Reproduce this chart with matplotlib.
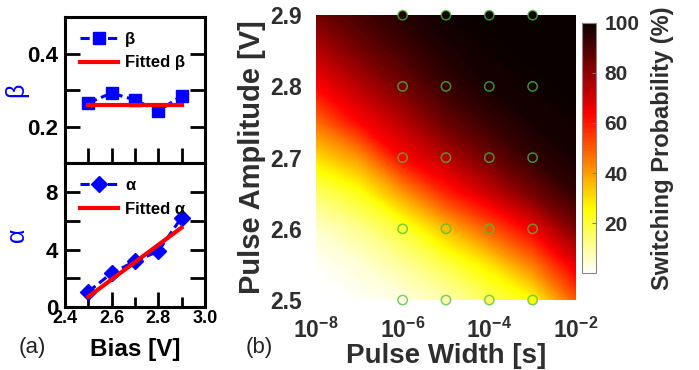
import numpy as np
import matplotlib.pyplot as plt
from matplotlib.ticker import FixedLocator, FixedFormatter

plt.rcParams['font.family'] = ['Liberation Sans', 'DejaVu Sans']
plt.rcParams['font.weight'] = 'bold'
plt.rcParams['axes.labelweight'] = 'bold'
plt.rcParams['mathtext.fontset'] = 'custom'
plt.rcParams['mathtext.rm'] = 'Liberation Sans:bold'
plt.rcParams['mathtext.it'] = 'Liberation Sans:bold'
plt.rcParams['mathtext.bf'] = 'Liberation Sans:bold'

# ---- panel (a) data ----
bias = [2.5, 2.6, 2.7, 2.8, 2.9]
beta = [0.265, 0.292, 0.273, 0.243, 0.284]
beta_fit = [0.26, 0.26, 0.26, 0.26, 0.26]
alpha = [1.07, 2.36, 3.18, 3.88, 6.22]
alpha_fit_bias = [2.5, 2.9]
alpha_fit = [0.72, 5.52]

# ---- panel (b) data: switching probability (%) ----
log_width = [-8, -7, -6, -5, -4, -3, -2]
amplitude = [2.5, 2.55, 2.6, 2.65, 2.7, 2.75, 2.8, 2.85, 2.9]
prob = [
    [0, 1, 3, 8, 16, 25, 50],
    [1, 4, 10, 18, 29, 45, 67],
    [5, 11, 20, 35, 50, 65, 83],
    [15, 23, 40, 58, 71, 84, 94],
    [30, 41, 63, 74, 85, 94, 98],
    [47, 63, 74, 86, 93, 98, 99],
    [63, 74, 84, 93, 98, 99, 100],
    [74, 84, 91, 97, 99, 100, 100],
    [84, 91, 96, 99, 100, 100, 100],
]
# measured points: pulse widths 1e-6..1e-3, amplitudes 2.5..2.9
meas_width = [-6, -5, -4, -3]
meas_amp = [2.5, 2.6, 2.7, 2.8, 2.9]

fig = plt.figure(figsize=(6.99, 3.70), dpi=100)

blue = '#0000ff'
red = '#ff0000'

def style_left(ax):
    for s in ax.spines.values():
        s.set_linewidth(2.2)
    ax.tick_params(which='both', direction='in', width=2, right=True, top=False,
                   labelsize=16, pad=5, length=11)

# top: beta
ax1 = fig.add_axes([0.093, 0.559, 0.200, 0.395])
ax1.plot(bias, beta, '--s', color=blue, lw=2.2, ms=8, dashes=(3, 1.5), label='β')
ax1.plot(bias, beta_fit, '-', color=red, lw=3, label='Fitted β')
ax1.set_xlim(2.4, 3.0)
ax1.set_ylim(0.1, 0.5)
ax1.yaxis.set_major_locator(FixedLocator([0.2, 0.4]))
ax1.yaxis.set_minor_locator(FixedLocator([0.3]))
ax1.xaxis.set_major_locator(FixedLocator(bias))
ax1.set_xticklabels([])
style_left(ax1)
ax1.set_ylabel('β', color=blue, fontsize=18, fontweight='normal')
ax1.yaxis.set_label_coords(-0.26, 0.5)
ax1.legend(loc='upper left', frameon=False, fontsize=12, handlelength=2.3,
           borderaxespad=0.5, labelspacing=0.5, handletextpad=0.4)

# bottom: alpha
ax2 = fig.add_axes([0.093, 0.170, 0.200, 0.389])
ax2.plot(bias, alpha, '--D', color=blue, lw=2.2, ms=8, dashes=(3, 1.5), label='α')
ax2.plot(alpha_fit_bias, alpha_fit, '-', color=red, lw=3, label='Fitted α')
ax2.set_xlim(2.4, 3.0)
ax2.set_ylim(0, 10)
ax2.yaxis.set_major_locator(FixedLocator([0, 4, 8]))
ax2.yaxis.set_minor_locator(FixedLocator([2, 6]))
ax2.xaxis.set_major_locator(FixedLocator([2.4, 2.6, 2.8, 3.0]))
ax2.xaxis.set_minor_locator(FixedLocator([2.5, 2.7, 2.9]))
ax2.xaxis.set_major_formatter(FixedFormatter(['2.4', '2.6', '2.8', '3.0']))
style_left(ax2)
ax2.tick_params(which='minor', axis='x', length=7)
ax2.tick_params(axis='x', labelsize=13, pad=2)
ax2.set_ylabel('α', color=blue, fontsize=18, fontweight='normal')
ax2.yaxis.set_label_coords(-0.26, 0.5)
ax2.set_xlabel('Bias [V]', fontsize=17.5, labelpad=8)
ax2.legend(loc='upper left', frameon=False, fontsize=12, handlelength=2.3,
           borderaxespad=0.5, labelspacing=0.5, handletextpad=0.4)

fig.text(0.026, 0.045, '(a)', fontsize=16, fontweight='normal', color='#222222')

# ---- panel (b) ----
gray = '#2e2e2e'
ax3 = fig.add_axes([0.452, 0.189, 0.372, 0.770])
cs = ax3.contourf(log_width, amplitude, prob, levels=np.linspace(0, 100, 201),
                  cmap='hot_r', vmin=0, vmax=100)
P = np.array(prob)
sel = P[::2, 2:6]
mx, my = np.meshgrid(meas_width, meas_amp)
ax3.scatter(mx, my, c=sel, cmap='hot_r', vmin=0, vmax=100, s=45,
            edgecolors=(0.3, 0.75, 0.2, 0.75), linewidths=1.1, clip_on=False, zorder=3)
ax3.set_xlim(-8, -2)
ax3.set_ylim(2.5, 2.9)
for s in ax3.spines.values():
    s.set_visible(False)
ax3.xaxis.set_major_locator(FixedLocator([-8, -6, -4, -2]))
ax3.xaxis.set_major_formatter(FixedFormatter([r'$10^{-8}$', r'$10^{-6}$', r'$10^{-4}$', r'$10^{-2}$']))
ax3.yaxis.set_major_locator(FixedLocator([2.5, 2.6, 2.7, 2.8, 2.9]))
ax3.tick_params(length=0, labelsize=16.5, labelcolor=gray)
ax3.tick_params(axis='x', pad=13)
ax3.tick_params(axis='y', pad=10)
ax3.set_xlabel('Pulse Width [s]', fontsize=20, color=gray, labelpad=0)
ax3.set_ylabel('Pulse Amplitude [V]', fontsize=21, color=gray, labelpad=3)

cax = fig.add_axes([0.833, 0.262, 0.020, 0.676])
cb = fig.colorbar(cs, cax=cax, ticks=[20, 40, 60, 80, 100])
cb.outline.set_edgecolor('#888888')
cb.outline.set_linewidth(0.8)
cax.tick_params(direction='in', length=3, color='#777777', labelsize=15,
                labelcolor=gray, pad=6)
cb.set_label('Switching Probability (%)', fontsize=17, color=gray, labelpad=8)

fig.text(0.352, 0.045, '(b)', fontsize=16, fontweight='normal', color='#222222')

fig.savefig('out.png', dpi=100)
